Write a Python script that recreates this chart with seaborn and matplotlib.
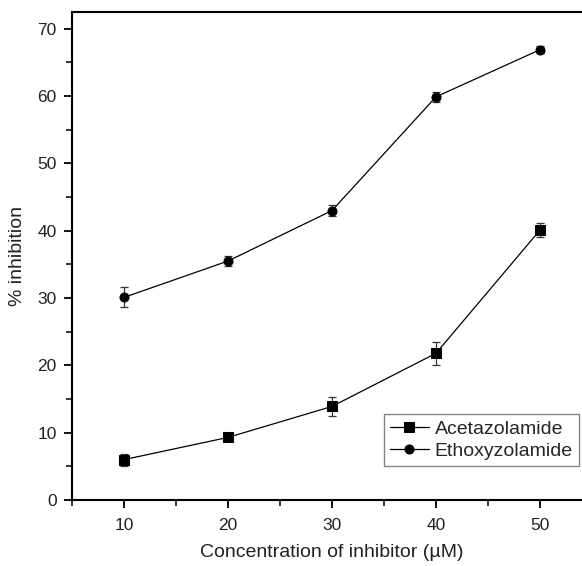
import matplotlib
matplotlib.use("Agg")
import matplotlib.pyplot as plt
from matplotlib.ticker import MultipleLocator
import seaborn as sns
import pandas as pd

# Concentration of inhibitor (µM) and mean % inhibition with error
conc = [10, 20, 30, 40, 50]
acetazolamide = [6.0, 9.3, 13.9, 21.8, 40.1]
acetazolamide_err = [0.9, 0.6, 1.4, 1.7, 1.1]
ethoxyzolamide = [30.1, 35.5, 43.0, 59.9, 66.9]
ethoxyzolamide_err = [1.5, 0.7, 0.8, 0.7, 0.5]

names = ["Acetazolamide", "Ethoxyzolamide"]
markers = {"Acetazolamide": "s", "Ethoxyzolamide": "o"}

df = pd.DataFrame({
    "conc": conc * 2,
    "inhibition": acetazolamide + ethoxyzolamide,
    "err": acetazolamide_err + ethoxyzolamide_err,
    "drug": [names[0]] * len(conc) + [names[1]] * len(conc),
})

sns.set_style("white")
plt.rcParams["font.family"] = ["Liberation Sans", "DejaVu Sans"]

fig = plt.figure(figsize=(5.82, 5.66), dpi=100)
ax = fig.add_axes([72 / 582, 66 / 566, 520 / 582, 488 / 566])

for name in names:
    sub = df[df["drug"] == name]
    ax.errorbar(sub["conc"], sub["inhibition"], yerr=sub["err"], fmt="none",
                ecolor="#333333", elinewidth=0.9, capsize=3, capthick=0.9, zorder=2)

sns.lineplot(data=df, x="conc", y="inhibition", hue="drug", style="drug",
             markers=markers, dashes=False, palette=["black", "black"],
             markersize=6.5, linewidth=0.9, markeredgecolor="black",
             ax=ax, zorder=3)

ax.set_xlim(5, 55)
ax.set_ylim(0, 72.5)
ax.xaxis.set_major_locator(MultipleLocator(10))
ax.xaxis.set_minor_locator(MultipleLocator(5))
ax.yaxis.set_major_locator(MultipleLocator(10))
ax.yaxis.set_minor_locator(MultipleLocator(5))

for side in ["left", "bottom", "top"]:
    ax.spines[side].set_visible(True)
    ax.spines[side].set_color("black")
    ax.spines[side].set_linewidth(1.5)
ax.spines["right"].set_visible(False)

ax.tick_params(axis="both", which="major", direction="out", length=6, width=1.3,
               labelsize=12.5, colors="black", labelcolor="#222222", pad=5,
               left=True, bottom=True, top=False, right=False)
ax.tick_params(axis="x", which="major", pad=7)
ax.tick_params(axis="both", which="minor", direction="out", length=4, width=1.3,
               left=True, bottom=True, top=False, right=False)

ax.set_xlabel("Concentration of inhibitor (\u00b5M)", fontsize=14, color="#222222", labelpad=8)
ax.set_ylabel("% inhibition", fontsize=14, color="#222222", labelpad=8)

leg = ax.legend(loc="upper left", bbox_to_anchor=(0.600, 0.176), borderaxespad=0,
                frameon=True, fancybox=False, edgecolor="#666666", fontsize=14,
                handlelength=2.0, handletextpad=0.3, borderpad=0.3, labelspacing=0.25,
                title=None)
leg.get_frame().set_linewidth(1.0)

fig.savefig("out.png", dpi=100)
